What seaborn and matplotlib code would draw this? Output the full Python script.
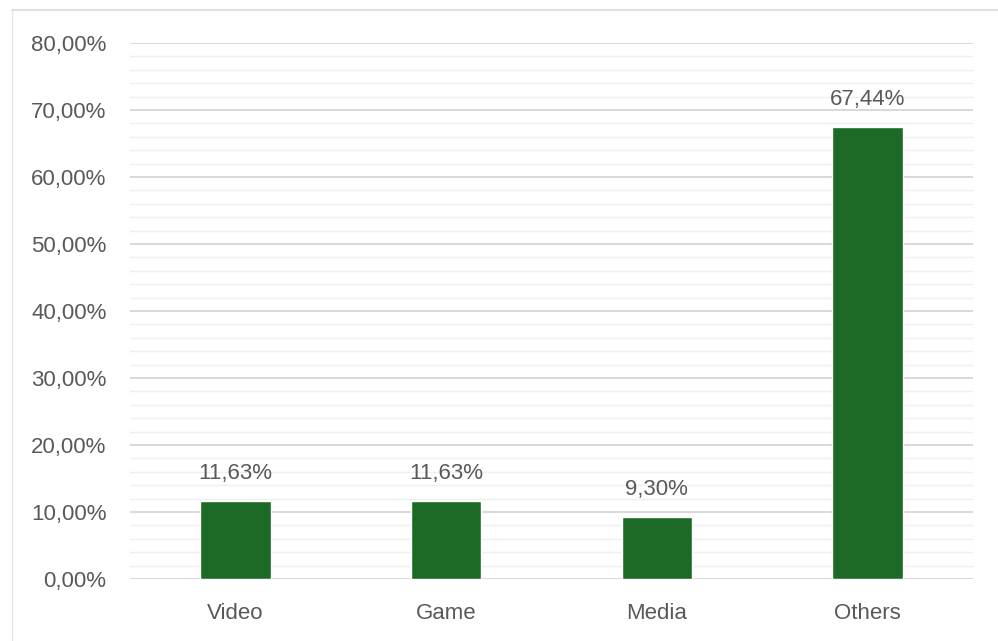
import matplotlib
matplotlib.use("Agg")
import matplotlib.pyplot as plt
from matplotlib.ticker import MultipleLocator, FuncFormatter
import seaborn as sns
import pandas as pd

categories = ["Video", "Game", "Media", "Others"]
values = [11.63, 11.63, 9.30, 67.44]

sns.set_style("white")
plt.rcParams['font.family'] = ['Liberation Sans', 'DejaVu Sans']

df = pd.DataFrame({"cat": categories, "val": values})

fig = plt.figure(figsize=(9.98, 6.41), dpi=100)
ax = fig.add_axes([0.1303, 0.0967, 0.8447, 0.8363])

sns.barplot(data=df, x="cat", y="val", color="#1C6A25", saturation=1, width=0.335, ax=ax, zorder=3)

ax.set_ylim(0, 80)
ax.set_xlim(-0.5, 3.5)
ax.yaxis.set_major_locator(MultipleLocator(10))
ax.yaxis.set_minor_locator(MultipleLocator(2))
ax.yaxis.set_major_formatter(FuncFormatter(lambda v, p: f"{v:.2f}%".replace(".", ",")))
ax.grid(which="major", axis="y", color="#d6d6d6", linewidth=1.3, zorder=0)
ax.grid(which="minor", axis="y", color="#efefef", linewidth=1.0, zorder=0)
ax.set_axisbelow(True)
for s in ax.spines.values():
    s.set_visible(False)
ax.tick_params(axis="both", which="both", length=0, labelsize=16, colors="#595959")
ax.tick_params(axis="y", pad=17)
ax.tick_params(axis="x", pad=17)
ax.set_xlabel("")
ax.set_ylabel("")

for i, v in enumerate(values):
    ax.annotate(f"{v:.2f}%".replace(".", ","), (i, v), xytext=(0, 12), textcoords="offset points",
                ha="center", va="bottom", fontsize=16, color="#595959")

# faint frame lines at top and left
fig.add_artist(plt.Line2D([0.012, 1], [1 - 10/641, 1 - 10/641], color="#e0e0e0", linewidth=1.5, transform=fig.transFigure))
fig.add_artist(plt.Line2D([12/998, 12/998], [0, 1 - 10/641], color="#e6e6e6", linewidth=1.0, transform=fig.transFigure))

fig.savefig("out.png", dpi=100)
